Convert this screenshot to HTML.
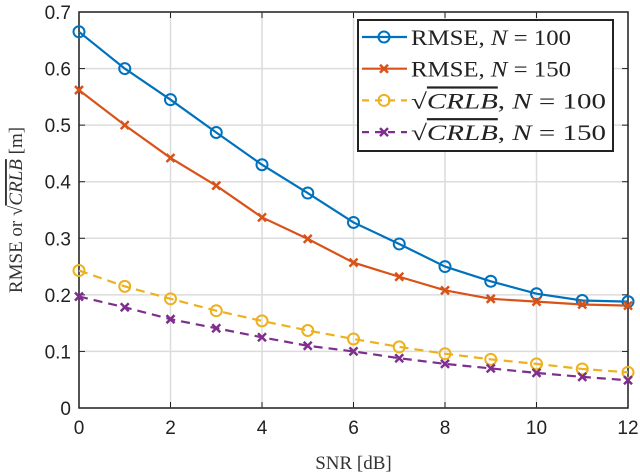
<!DOCTYPE html>
<html><head><meta charset="utf-8"><style>
body{margin:0;background:#fff}
svg{display:block;font-family:"Liberation Sans",sans-serif}
.s{font-family:"Liberation Serif",serif}
</style></head><body>
<svg id="c" width="640" height="475"></svg>
<script>
const xs=[0,1,2,3,4,5,6,7,8,9,10,11,12];
const rmse100=[.665,.60,.545,.487,.43,.38,.328,.29,.25,.224,.202,.19,.188];
const rmse150=[.562,.50,.442,.393,.337,.299,.257,.232,.208,.193,.188,.183,.181];
const crlb100=[.243,.215,.193,.172,.154,.137,.122,.108,.096,.086,.078,.069,.063];
const crlb150=[.197,.178,.157,.141,.125,.110,.100,.088,.078,.070,.062,.055,.049];
const xticks=[0,2,4,6,8,10,12];
const yticks=[0,0.1,0.2,0.3,0.4,0.5,0.6,0.7];
const L=79,R=628,T=12,B=408;
const X=v=>L+(v-0)/12*(R-L), Y=v=>B-v/0.7*(B-T);
const svg=document.getElementById('c');const NS='http://www.w3.org/2000/svg';
function mk(t,a,p){const e=document.createElementNS(NS,t);for(const k in a)e.setAttribute(k,a[k]);(p||svg).appendChild(e);return e;}
xticks.forEach(v=>{const l=mk('line',{x1:X(v),x2:X(v),y1:T,y2:B,stroke:'#dcdcdc','stroke-width':1.5});

const t=mk('text',{x:X(v),y:B+26,'text-anchor':'middle','font-size':19,fill:'#222'});t.textContent=v;

mk('line',{x1:X(v),x2:X(v),y1:B,y2:B-6,stroke:'#222'});mk('line',{x1:X(v),x2:X(v),y1:T,y2:T+6,stroke:'#222'});});
yticks.forEach(v=>{const l=mk('line',{x1:L,x2:R,y1:Y(v),y2:Y(v),stroke:'#dcdcdc','stroke-width':1.5});

const t=mk('text',{x:L-8,y:Y(v)+7,'text-anchor':'end','font-size':19,fill:'#222'});t.textContent=v===0?'0':v.toFixed(1);

mk('line',{x1:L,x2:L+6,y1:Y(v),y2:Y(v),stroke:'#222'});mk('line',{x1:R,x2:R-6,y1:Y(v),y2:Y(v),stroke:'#222'});});
const fr=mk('rect',{x:L,y:T,width:R-L,height:B-T,fill:'none',stroke:'#222','stroke-width':1.5});

const series=[[rmse100,'#0072BD','o',false,'rmse-n100'],[rmse150,'#D95319','x',false,'rmse-n150'],[crlb100,'#EDB120','o',true,'crlb-n100'],[crlb150,'#7E2F8E','x',true,'crlb-n150']];
function marker(g,x,y,c,m){if(m==='o')mk('circle',{cx:x,cy:y,r:5.5,fill:'none',stroke:c,'stroke-width':2},g);
else{mk('line',{x1:x-4,y1:y-4,x2:x+4,y2:y+4,stroke:c,'stroke-width':2.5},g);mk('line',{x1:x-4,y1:y+4,x2:x+4,y2:y-4,stroke:c,'stroke-width':2.5},g);}}
series.forEach(([d,c,m,dash,n])=>{const g=mk('g',{});
mk('polyline',{points:d.map((v,i)=>X(xs[i])+','+Y(v)).join(' '),fill:'none',stroke:c,'stroke-width':2.2,'stroke-dasharray':dash?'9,6':'none'},g);
d.forEach((v,i)=>marker(g,X(xs[i]),Y(v),c,m));});
const lg=mk('g',{});
mk('rect',{x:358,y:20,width:255,height:131,fill:'#fff',stroke:'#222','stroke-width':2},lg);
const labels=['RMSE, <tspan font-style="italic">N</tspan> = 100','RMSE, <tspan font-style="italic">N</tspan> = 150','√<tspan font-style="italic" text-decoration="overline">CRLB</tspan>, <tspan font-style="italic">N</tspan> = 100','√<tspan font-style="italic" text-decoration="overline">CRLB</tspan>, <tspan font-style="italic">N</tspan> = 150'];
series.forEach(([d,c,m,dash,n],i)=>{const y=37+i*31.7;const g=mk('g',{},lg);
mk('line',{x1:362,x2:407,y1:y,y2:y,stroke:c,'stroke-width':2.2,'stroke-dasharray':dash?'7,6':'none'},g);marker(g,384,y,c,m);
const t=mk('text',{x:411,y:y+8,'font-size':22,fill:'#222',class:'s',textLength:195,lengthAdjust:'spacingAndGlyphs'},g);t.innerHTML=labels[i];
if(i<2)t.setAttribute('textLength',160);});
const xt=mk('text',{x:(L+R)/2,y:469,'text-anchor':'middle','font-size':19,fill:'#333',class:'s'});xt.textContent='SNR [dB]';

const yt=mk('text',{x:0,y:0,'text-anchor':'middle','font-size':19,fill:'#333',class:'s',transform:'translate(22,'+((T+B)/2)+') rotate(-90)'});
yt.innerHTML='RMSE or √<tspan font-style="italic" text-decoration="overline">CRLB</tspan> [m]';

</script></body></html>
